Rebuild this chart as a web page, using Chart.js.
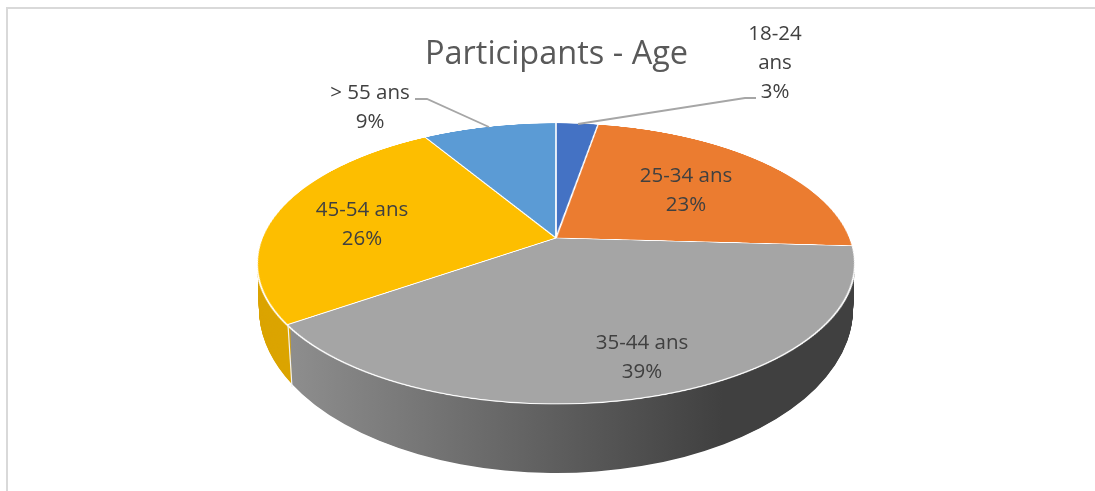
<!DOCTYPE html>
<html>
<head>
<meta charset="utf-8">
<script src="https://cdn.jsdelivr.net/npm/chart.js@4/dist/chart.umd.min.js"></script>
<style>
  html, body { margin: 0; background: #fff; overflow: hidden; }
  #stage { position: relative; width: 1095px; height: 491px; overflow: hidden; }
  #frame { position: absolute; left: 6px; top: 7px; right: 0; bottom: -4px; border-left: 2px solid #d9d9d9; border-top: 2px solid #d9d9d9; }
  canvas { position: absolute; left: 0; top: 0; }
  #disc { transform-origin: 0 0; }
  #lines { position: absolute; left: 0; top: 0; }
  .lbl { position: absolute; transform: translateX(-50%); text-align: center; white-space: nowrap;
         font: 20.5px/29px "Open Sans", sans-serif; color: #404040; }
</style>
</head>
<body>
<div id="stage">
  <div id="frame"></div>
  <canvas id="wall" width="1113" height="491"></canvas>
  <canvas id="disc" width="700" height="700"></canvas>
  <svg id="lines" width="1095" height="491"></svg>
</div>
<script>
const categories = ["18-24 ans", "25-34 ans", "35-44 ans", "45-54 ans", "> 55 ans"];
const values = [2.7, 23.2, 39.4, 26.1, 8.6];
const topColors = ["#4472C4", "#EB7C30", "#A5A5A5", "#FDBE00", "#5B9BD5"];
const titleText = "Participants - Age";

// label layout: centre x, first line y, line breaks
const labelX = [775, 686, 642, 362, 370];
const labelY = [18, 160, 327, 194, 77];
const labelLines = [["18-24", "ans"], ["25-34 ans"], ["35-44 ans"], ["45-54 ans"], ["> 55 ans"]];

// projection of the top disc, fitted on the reference
const centreX = 556, apexY = 238, persp = -0.1815, vy = 92.67, hx = 294;
// rim ellipse of the top face and of the bottom face
const rimTop = { y: 263, rx: 298.5, ry: 140.5 };
const rimBottom = { y: 309, rx: 297, ry: 164 };

// side wall of the pie, only the part under the widest line of the rim shows
const wallPlugin = {
  id: "wall",
  beforeDatasetsDraw(chart) {
    const ctx = chart.ctx;
    const arcs = chart.getDatasetMeta(0).data;
    const a = arcs[0];
    const steps = 92;
    ctx.save();
    ctx.beginPath();
    ctx.rect(0, rimTop.y, chart.width, chart.height - rimTop.y);
    ctx.clip();
    for (let i = steps; i >= 0; i--) {
      const t = i / steps;
      const y = rimTop.y + (rimBottom.y - rimTop.y) * t;
      const rx = rimTop.rx + (rimBottom.rx - rimTop.rx) * t;
      const ry = rimTop.ry + (rimBottom.ry - rimTop.ry) * t;
      ctx.save();
      ctx.translate(centreX, y);
      ctx.scale(rx / a.outerRadius, ry / a.outerRadius);
      ctx.translate(-a.x, -a.y);
      arcs.forEach(arc => arc.draw(ctx));
      ctx.restore();
    }
    ctx.restore();
    return false;
  }
};

function wallColor(context) {
  if (context.dataIndex === 3) return "#DBA400";
  const area = context.chart.chartArea;
  if (!area) return "#808080";
  const r = Math.min(area.right - area.left, area.bottom - area.top) / 2;
  const cx = (area.left + area.right) / 2;
  const g = context.chart.ctx.createLinearGradient(cx - r, 0, cx + r, 0);
  g.addColorStop(0.05, "#8E8E8E");
  g.addColorStop(0.78, "#404040");
  g.addColorStop(1, "#404040");
  return g;
}

new Chart(document.getElementById("wall"), {
  type: "pie",
  data: { labels: categories, datasets: [{ data: values, backgroundColor: wallColor, borderWidth: 0 }] },
  options: {
    responsive: false,
    animation: false,
    rotation: 8,
    events: [],
    layout: { padding: 0 },
    plugins: {
      legend: { display: false },
      tooltip: { enabled: false },
      title: {
        display: true,
        text: titleText,
        color: "#595959",
        font: { family: "'Open Sans', sans-serif", size: 32.5, weight: "normal" },
        padding: { top: 35, bottom: 4 }
      }
    }
  },
  plugins: [wallPlugin]
});

const discCanvas = document.getElementById("disc");
const disc = new Chart(discCanvas, {
  type: "pie",
  data: { labels: categories, datasets: [{ data: values, backgroundColor: topColors, borderColor: "#fff", borderWidth: 2 }] },
  options: {
    responsive: false,
    animation: false,
    devicePixelRatio: 2,
    events: [],
    plugins: { legend: { display: false }, tooltip: { enabled: false } }
  }
});

// tilt the flat pie with the fitted perspective
const arc0 = disc.getDatasetMeta(0).data[0];
const r = arc0.outerRadius, cx = arc0.x, cy = arc0.y;
const m44 = 1 - persp * cy / r;
discCanvas.style.transform = "matrix3d(" + [
  hx / r, 0, 0, 0,
  centreX * persp / r, vy / r, 0, persp / r,
  0, 0, 1, 0,
  centreX * m44 - hx * cx / r, apexY - vy * cy / r, 0, m44
].join(",") + ")";

// data labels
const total = values.reduce((s, v) => s + v, 0);
const stage = document.getElementById("stage");
categories.forEach((c, i) => {
  const d = document.createElement("div");
  d.className = "lbl";
  d.style.left = labelX[i] + "px";
  d.style.top = labelY[i] + "px";
  labelLines[i].concat([Math.round(values[i] / total * 100) + "%"]).forEach(t => {
    const line = document.createElement("div");
    line.textContent = t;
    d.appendChild(line);
  });
  stage.appendChild(d);
});

// leader lines and the seam on the wall
const svg = document.getElementById("lines");
const leaderLines = [
  { pts: "756,98 745,98 578,124", color: "#A6A6A6", w: 1.8 },
  { pts: "415,99 427,99 489,127", color: "#A6A6A6", w: 1.8 },
  { pts: "288,325 292,387", color: "#F2F2F2", w: 1.2 }
];
leaderLines.forEach(l => {
  const p = document.createElementNS("http://www.w3.org/2000/svg", "polyline");
  p.setAttribute("points", l.pts);
  p.setAttribute("fill", "none");
  p.setAttribute("stroke", l.color);
  p.setAttribute("stroke-width", l.w);
  svg.appendChild(p);
});
</script>
</body>
</html>
